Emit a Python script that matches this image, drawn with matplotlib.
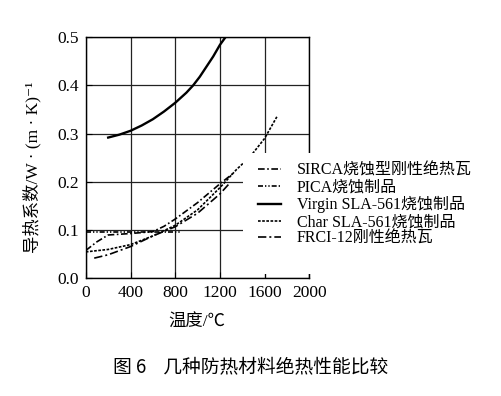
import matplotlib
matplotlib.use("Agg")
import matplotlib.pyplot as plt
from matplotlib.patches import Rectangle

plt.rcParams['font.family'] = ['Liberation Serif', 'Noto Sans CJK SC', 'DejaVu Sans']

# curves (temperature in degC, conductivity in W/(m.K))
sirca_T = [0, 100, 200, 400, 600, 700, 800, 1000, 1200, 1320]
sirca_k = [0.058, 0.076, 0.090, 0.093, 0.097, 0.108, 0.123, 0.157, 0.196, 0.218]

pica_T = [0, 200, 400, 600, 850]
pica_k = [0.096, 0.096, 0.096, 0.096, 0.096]

virgin_T = [200, 300, 400, 500, 600, 700, 800, 900, 960, 1020, 1080, 1140, 1200, 1250]
virgin_k = [0.292, 0.298, 0.306, 0.317, 0.330, 0.346, 0.364, 0.385, 0.400, 0.418, 0.439, 0.460, 0.484, 0.500]

char_T = [0, 200, 400, 600, 800, 1000, 1200, 1350, 1470, 1600, 1710]
char_k = [0.055, 0.060, 0.070, 0.088, 0.110, 0.142, 0.188, 0.226, 0.252, 0.290, 0.335]

frci_T = [75, 200, 400, 600, 800, 1000, 1200, 1290]
frci_k = [0.042, 0.049, 0.066, 0.088, 0.107, 0.135, 0.175, 0.198]

labels = ["SIRCA烧蚀型刚性绝热瓦", "PICA烧蚀制品", "Virgin SLA-561烧蚀制品",
          "Char SLA-561烧蚀制品", "FRCI-12刚性绝热瓦"]

xticks = [0, 400, 800, 1200, 1600, 2000]
yticks = [0.0, 0.1, 0.2, 0.3, 0.4, 0.5]

fig = plt.figure(figsize=(5.02, 3.96), dpi=100)
ax = fig.add_axes([0.171, 0.297, 0.445, 0.609])

lw = 1.2
l1, = ax.plot(sirca_T, sirca_k, color="black", lw=lw, dashes=(4, 1.5, 1, 1.5))
l2, = ax.plot(pica_T, pica_k, color="black", lw=lw, dashes=(3, 1.2, 0.8, 1.2, 0.8, 1.2))
l3, = ax.plot(virgin_T, virgin_k, color="black", lw=1.7)
l4, = ax.plot(char_T, char_k, color="black", lw=lw, dashes=(1.6, 0.9))
l5, = ax.plot(frci_T, frci_k, color="black", lw=lw, dashes=(5, 1.8, 1.2, 1.8))

ax.set_xlim(0, 2000)
ax.set_ylim(0, 0.5)
ax.set_xticks(xticks)
ax.set_yticks(yticks)
ax.set_yticklabels([f"{v:.1f}" for v in yticks])
ax.grid(True, color="#222222", lw=0.9)
ax.tick_params(direction="in", length=4, labelsize=12.5, pad=5)
for s in ax.spines.values():
    s.set_linewidth(1.0)

# white block behind the legend, hiding the grid there
ax.add_patch(Rectangle((0.704, 0.018), 1.2, 0.502, transform=ax.transAxes,
                       facecolor="white", edgecolor="none", clip_on=False, zorder=4))

leg = ax.legend([l1, l2, l3, l4, l5], labels, loc="upper left",
                bbox_to_anchor=(0.77, 0.48), frameon=False, fontsize=11.5,
                borderaxespad=0, borderpad=0, labelspacing=0.05,
                handlelength=1.45, handletextpad=1.0)
leg.set_zorder(5)

fig.text(0.064, 0.578, "导热系数/W · (m · K)⁻¹", rotation=90, fontsize=12.5,
         ha="center", va="center")
fig.text(0.392, 0.185, "温度/℃", fontsize=12.5, ha="center", va="center")
fig.text(0.50, 0.073, "图 6    几种防热材料绝热性能比较", fontsize=13.5,
         ha="center", va="center", family=['Noto Sans CJK SC', 'DejaVu Sans'])

fig.savefig("out.png", dpi=100)
